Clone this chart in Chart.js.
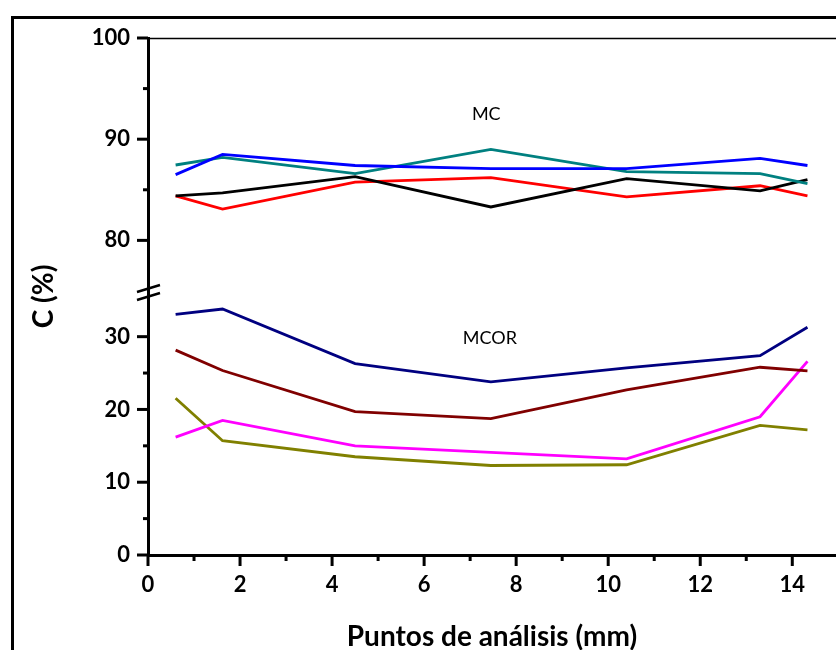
<!DOCTYPE html>
<html>
<head>
<meta charset="utf-8">
<script src="https://cdn.jsdelivr.net/npm/chart.js@4.4.1/dist/chart.umd.min.js"></script>
<style>
  html, body { margin: 0; padding: 0; background: #fff; }
  #wrap { width: 836px; height: 650px; position: relative; }
</style>
</head>
<body>
<div id="wrap"><canvas id="chart" width="836" height="650"></canvas></div>
<script>
// analysis points (mm)
const xPoints = [0.6, 1.62, 4.5, 7.45, 10.4, 13.3, 14.33];

// MC group (upper axis segment)
const mcBlue  = [86.5, 88.5, 87.4, 87.1, 87.1, 88.1, 87.4];
const mcTeal  = [87.45, 88.2, 86.6, 89.0, 86.8, 86.6, 85.6];
const mcBlack = [84.4, 84.7, 86.3, 83.3, 86.1, 84.9, 86.0];
const mcRed   = [84.4, 83.1, 85.75, 86.2, 84.3, 85.4, 84.4];

// MCOR group (lower axis segment)
const mcorNavy    = [33.05, 33.8, 26.3, 23.8, 25.7, 27.4, 31.3];
const mcorMaroon  = [28.15, 25.35, 19.7, 18.75, 22.7, 25.8, 25.3];
const mcorMagenta = [16.2, 18.5, 15.0, 14.1, 13.2, 19.0, 26.6];
const mcorOlive   = [21.55, 15.7, 13.5, 12.3, 12.4, 17.8, 17.2];

const xTickLabels = ["0", "2", "4", "6", "8", "10", "12", "14"];
const yTickLabels = ["0", "10", "20", "30", "80", "90", "100"];

const FONT = "Lato, 'Open Sans', sans-serif";

function pts(values) {
  return values.map((v, i) => ({ x: xPoints[i], y: v }));
}

function line(values, color, axis) {
  return {
    data: pts(values),
    borderColor: color,
    backgroundColor: color,
    borderWidth: 2.8,
    pointRadius: 0,
    tension: 0,
    yAxisID: axis,
  };
}

const decor = {
  id: "decor",
  beforeDraw(chart) {
    const ctx = chart.ctx;
    ctx.save();
    ctx.fillStyle = "#fff";
    ctx.fillRect(0, 0, chart.width, chart.height);
    ctx.restore();
  },
  afterDraw(chart) {
    const ctx = chart.ctx;
    const area = chart.chartArea;
    const xs = chart.scales.x;
    const lo = chart.scales.yLow;
    const hi = chart.scales.yHigh;
    ctx.save();
    ctx.strokeStyle = "#000";
    ctx.fillStyle = "#000";

    // outer frame
    ctx.lineWidth = 3;
    ctx.strokeRect(12.5, 17.5, 1000, 1000);

    // top line
    ctx.lineWidth = 1.5;
    ctx.beginPath();
    ctx.moveTo(area.left, area.top + 0.5);
    ctx.lineTo(area.right, area.top + 0.5);
    ctx.stroke();

    // tick marks
    ctx.lineWidth = 3;
    ctx.lineCap = "butt";
    xs.ticks.forEach((t) => {
      const px = xs.getPixelForValue(t.value);
      const len = t.value % 2 === 0 ? 11 : 6;
      ctx.beginPath();
      ctx.moveTo(px, area.bottom);
      ctx.lineTo(px, area.bottom + len);
      ctx.stroke();
    });
    [lo, hi].forEach((s) => {
      s.ticks.forEach((t) => {
        const py = s.getPixelForValue(t.value);
        const len = t.value % 10 === 0 ? 11 : 5;
        ctx.beginPath();
        ctx.moveTo(area.left, py);
        ctx.lineTo(area.left - len, py);
        ctx.stroke();
      });
    });

    // axis break marks
    const by = lo.top;
    ctx.lineWidth = 2.5;
    ctx.beginPath();
    ctx.moveTo(area.left - 11, by - 1);
    ctx.lineTo(area.left + 12, by - 8);
    ctx.moveTo(area.left - 11, by + 7);
    ctx.lineTo(area.left + 12, by);
    ctx.stroke();

    // y title
    ctx.font = "bold 28px " + FONT;
    ctx.textAlign = "center";
    ctx.textBaseline = "middle";
    ctx.translate(44, (area.top + area.bottom) / 2);
    ctx.rotate(-Math.PI / 2);
    ctx.fillText("C (%)", 0, 0);
    ctx.restore();

    // group labels
    ctx.save();
    ctx.fillStyle = "#000";
    ctx.font = "18px " + FONT;
    ctx.textAlign = "center";
    ctx.textBaseline = "middle";
    ctx.fillText("MC", xs.getPixelForValue(7.35), hi.getPixelForValue(92.5));
    ctx.fillText("MCOR", xs.getPixelForValue(7.43), lo.getPixelForValue(29.8));
    ctx.restore();
  },
};

new Chart(document.getElementById("chart"), {
  type: "line",
  data: {
    datasets: [
      line(mcBlue, "#0000FF", "yHigh"),
      line(mcTeal, "#008080", "yHigh"),
      line(mcBlack, "#000000", "yHigh"),
      line(mcRed, "#FF0000", "yHigh"),
      line(mcorNavy, "#000080", "yLow"),
      line(mcorMaroon, "#800000", "yLow"),
      line(mcorMagenta, "#FF00FF", "yLow"),
      line(mcorOlive, "#808000", "yLow"),
    ],
  },
  options: {
    responsive: false,
    animation: false,
    layout: { padding: { left: 0, top: 38, right: 0, bottom: 0 } },
    plugins: { legend: { display: false }, tooltip: { enabled: false } },
    scales: {
      x: {
        type: "linear",
        position: "bottom",
        min: 0,
        max: 14.95,
        grid: { display: false, drawTicks: false },
        border: { display: true, width: 3, color: "#000" },
        ticks: {
          stepSize: 1,
          includeBounds: false,
          autoSkip: false,
          maxRotation: 0,
          padding: 17,
          color: "#000",
          font: { family: FONT, size: 22, weight: "bold" },
          callback: (v) => (xTickLabels.includes(String(v)) ? String(v) : ""),
        },
        title: {
          display: true,
          text: "Puntos de análisis (mm)",
          color: "#000",
          font: { family: FONT, size: 28, weight: "bold" },
          padding: { top: 0, bottom: -4 },
        },
        afterFit(s) { s.height = 95; },
      },
      yLow: {
        type: "linear",
        position: "left",
        stack: "y",
        stackWeight: 262,
        min: 0,
        max: 36,
        grid: { display: false, drawTicks: false },
        border: { display: true, width: 3, color: "#000" },
        ticks: {
          stepSize: 5,
          includeBounds: false,
          autoSkip: false,
          padding: 18,
          color: "#000",
          font: { family: FONT, size: 22, weight: "bold" },
          callback: (v) => (yTickLabels.includes(String(v)) ? String(v) : ""),
        },
        afterBuildTicks(s) { s.ticks = s.ticks.filter((t) => t.value <= 30); },
        afterFit(s) { s.width = 148; },
      },
      yHigh: {
        type: "linear",
        position: "left",
        stack: "y",
        stackWeight: 255,
        min: 74.8,
        max: 100,
        grid: { display: false, drawTicks: false },
        border: { display: true, width: 3, color: "#000" },
        ticks: {
          stepSize: 5,
          includeBounds: false,
          autoSkip: false,
          padding: 18,
          color: "#000",
          font: { family: FONT, size: 22, weight: "bold" },
          callback: (v) => (yTickLabels.includes(String(v)) ? String(v) : ""),
        },
        afterBuildTicks(s) { s.ticks = s.ticks.filter((t) => t.value >= 80); },
        afterFit(s) { s.width = 148; },
      },
    },
  },
  plugins: [decor],
});
</script>
</body>
</html>
